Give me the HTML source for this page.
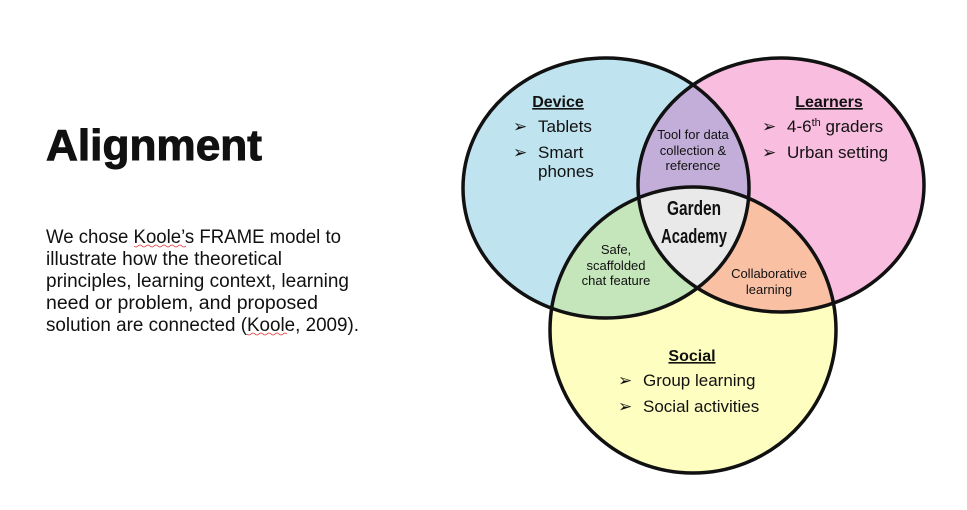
<!DOCTYPE html>
<html><head><meta charset="utf-8"><style>
html,body{margin:0;padding:0;background:#fff;}
svg{display:block;}
text{font-family:"Liberation Sans",sans-serif;fill:#111;}
</style></head><body>
<svg width="967" height="510" viewBox="0 0 967 510" xmlns="http://www.w3.org/2000/svg">
<defs>
<clipPath id="cD"><ellipse cx="606" cy="188" rx="143" ry="130"/></clipPath>
<clipPath id="cL"><ellipse cx="781" cy="185" rx="143" ry="127"/></clipPath>
<clipPath id="cS"><ellipse cx="693" cy="330" rx="143" ry="143"/></clipPath>
</defs>
<text x="46" y="160" font-size="44" font-weight="bold" textLength="216" lengthAdjust="spacingAndGlyphs" stroke="#111" stroke-width="1">Alignment</text>
<g font-size="19">
<text x="46" y="243" textLength="295" lengthAdjust="spacingAndGlyphs">We chose Koole’s FRAME model to</text>
<text x="46" y="265" textLength="236" lengthAdjust="spacingAndGlyphs">illustrate how the theoretical</text>
<text x="46" y="287" textLength="303" lengthAdjust="spacingAndGlyphs">principles, learning context, learning</text>
<text x="46" y="309" textLength="272" lengthAdjust="spacingAndGlyphs">need or problem, and proposed</text>
<text x="46" y="331" textLength="313" lengthAdjust="spacingAndGlyphs">solution are connected (Koole, 2009).</text>
</g>
<path d="M134 246 q2 2 4 0 t4 0 t4 0 t4 0 t4 0 t4 0 t4 0 t4 0 t4 0 t4 0 t4 0 t4 0 t4 0" stroke="#d33" fill="none" stroke-width="0.8"/>
<path d="M247 334 q2 2 4 0 t4 0 t4 0 t4 0 t4 0 t4 0 t4 0 t4 0 t4 0 t4 0" stroke="#d33" fill="none" stroke-width="0.8"/>

<ellipse cx="606" cy="188" rx="143" ry="130" fill="#bfe4ef"/>
<ellipse cx="781" cy="185" rx="143" ry="127" fill="#f9bde0"/>
<ellipse cx="693" cy="330" rx="143" ry="143" fill="#fefec0"/>
<g clip-path="url(#cD)"><ellipse cx="781" cy="185" rx="143" ry="127" fill="#c2aed8"/>
<ellipse cx="693" cy="330" rx="143" ry="143" fill="#c5e6bb"/></g>
<g clip-path="url(#cL)"><ellipse cx="693" cy="330" rx="143" ry="143" fill="#f9c0a4"/></g>
<g clip-path="url(#cD)"><g clip-path="url(#cL)"><ellipse cx="693" cy="330" rx="143" ry="143" fill="#e9e9e9"/></g></g>
<g fill="none" stroke="#111" stroke-width="3.5">
<ellipse cx="606" cy="188" rx="143" ry="130"/>
<ellipse cx="781" cy="185" rx="143" ry="127"/>
<ellipse cx="693" cy="330" rx="143" ry="143"/>
</g>

<text x="558" y="107" font-size="16" font-weight="bold" text-anchor="middle" text-decoration="underline">Device</text>
<g font-size="17">
<text x="513" y="132">➢</text><text x="538" y="132">Tablets</text>
<text x="513" y="158">➢</text><text x="538" y="158">Smart</text>
<text x="538" y="177">phones</text>
</g>
<text x="829" y="107" font-size="16" font-weight="bold" text-anchor="middle" text-decoration="underline">Learners</text>
<g font-size="17">
<text x="762" y="132">➢</text><text x="787" y="132">4-6<tspan font-size="11" dy="-6">th</tspan><tspan dy="6"> graders</tspan></text>
<text x="762" y="158">➢</text><text x="787" y="158">Urban setting</text>
</g>
<g font-size="13" text-anchor="middle">
<text x="693" y="139">Tool for data</text>
<text x="693" y="155">collection &amp;</text>
<text x="693" y="170">reference</text>
<text x="616" y="254">Safe,</text>
<text x="616" y="270">scaffolded</text>
<text x="616" y="285">chat feature</text>
<text x="769" y="278">Collaborative</text>
<text x="769" y="294">learning</text>
</g>
<g font-family="'Liberation Serif',serif" font-weight="bold" font-size="20" text-anchor="middle">
<text x="694" y="215" font-family="Liberation Serif, serif" textLength="54" lengthAdjust="spacingAndGlyphs">Garden</text>
<text x="694" y="243" font-family="Liberation Serif, serif" textLength="66" lengthAdjust="spacingAndGlyphs">Academy</text>
</g>
<text x="692" y="361" font-size="16" font-weight="bold" text-anchor="middle" text-decoration="underline">Social</text>
<g font-size="17">
<text x="618" y="386">➢</text><text x="643" y="386">Group learning</text>
<text x="618" y="412">➢</text><text x="643" y="412">Social activities</text>
</g>
</svg>
</body></html>
